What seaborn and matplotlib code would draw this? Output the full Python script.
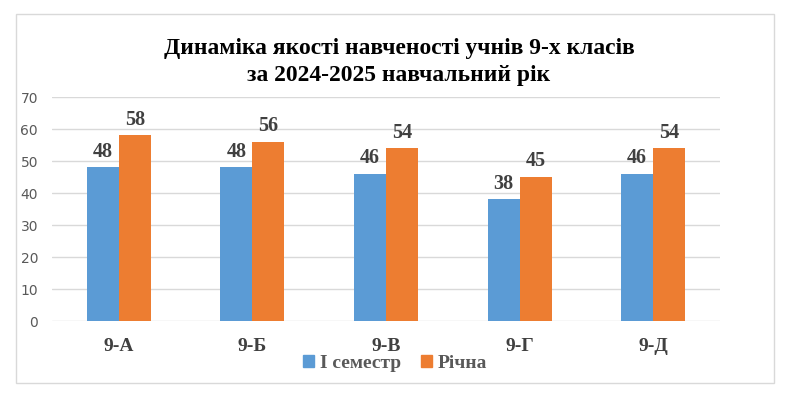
import pandas as pd
import seaborn as sns
import matplotlib.pyplot as plt
from matplotlib.patches import Rectangle, Patch

classes = ['9-А', '9-Б', '9-В', '9-Г', '9-Д']
semester = [48, 48, 46, 38, 46]
annual = [58, 56, 54, 45, 54]
series = ['І семестр', 'Річна']
colors = ['#5B9BD5', '#ED7D31']

df = pd.DataFrame({
    'class': classes * 2,
    'value': semester + annual,
    'series': [series[0]] * len(classes) + [series[1]] * len(classes),
})

sns.set_style('white')
plt.rcParams['font.family'] = ['Liberation Serif', 'DejaVu Serif']

fig = plt.figure(figsize=(7.9, 3.95), dpi=100)
ax = fig.add_axes([0.0658, 0.1873, 0.8456, 0.5671])

sns.barplot(data=df, x='class', y='value', hue='series', palette=colors,
            width=0.48, ax=ax, legend=False, saturation=1, linewidth=0)

for cont in ax.containers:
    ax.bar_label(cont, fontsize=14.5, fontweight='bold', color='#404040', padding=4)

ax.set_ylim(0, 70)
ax.set_xlim(-0.5, 4.5)
ax.set_yticks(range(0, 71, 10))
ax.yaxis.grid(True, color='#d9d9d9', linewidth=1)
ax.set_axisbelow(True)
for s in ax.spines.values():
    s.set_visible(False)
ax.tick_params(axis='both', length=0)
ax.tick_params(axis='y', pad=10)
ax.tick_params(axis='x', pad=12)
for lab in ax.get_yticklabels():
    lab.set_fontfamily('DejaVu Sans')
    lab.set_fontsize(10)
    lab.set_color('#595959')
for lab in ax.get_xticklabels():
    lab.set_fontsize(14)
    lab.set_fontweight('bold')
    lab.set_color('#404040')
ax.set_xlabel('')
ax.set_ylabel('')

handles = [Patch(color=c, label=s) for c, s in zip(colors, series)]
fig.legend(handles=handles, loc='center', bbox_to_anchor=(0.5, 0.08), ncol=2,
           frameon=False, handlelength=0.6, handleheight=0.6, handletextpad=0.3,
           columnspacing=1.0, prop={'size': 14, 'weight': 'bold'}, labelcolor='#595959')

fig.text(0.505, 0.843, 'Динаміка якості навченості учнів 9-х класів\nза 2024-2025 навчальний рік',
         ha='center', va='center', fontsize=16.9, fontweight='bold', color='#000000',
         linespacing=1.35)

fig.patches.append(Rectangle((16 / 790, 1 - 383 / 395), 758 / 790, 369 / 395,
                             transform=fig.transFigure, fill=False,
                             edgecolor='#d9d9d9', linewidth=1))

fig.savefig('out.png', dpi=100)
